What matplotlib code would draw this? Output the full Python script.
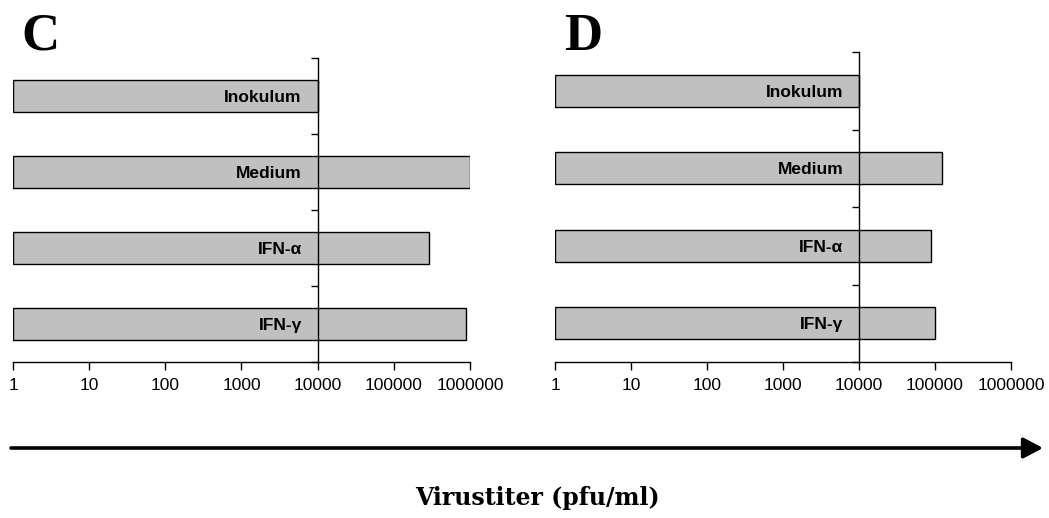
import numpy as np
import matplotlib
matplotlib.use("Agg")
import matplotlib.pyplot as plt
from matplotlib.ticker import FixedLocator, FixedFormatter, NullFormatter

# Data
categories = ["Inokulum", "Medium", "IFN-α", "IFN-γ"]
titer_C = [1e4, 1e6, 2.9e5, 8.8e5]
titer_D = [1e4, 1.25e5, 8.85e4, 1.0e5]
x_ticks = [1, 10, 100, 1000, 10000, 100000, 1000000]
x_tick_labels = ["1", "10", "100", "1000", "10000", "100000", "1000000"]
panel_letters = ["C", "D"]
axis_title = "Virustiter (pfu/ml)"

W, H = 1049, 518
fig = plt.figure(figsize=(W / 100, H / 100), dpi=100)

sans = "Liberation Sans"
serif = "Liberation Serif"


def draw_panel(rect, values, letter, letter_xy):
    ax = fig.add_axes(rect)
    n = len(categories)
    ypos = np.arange(n)[::-1] + 0.5  # first category on top
    ax.barh(ypos, np.array(values) - 1, left=1, height=0.41,
            color="#c0c0c0", edgecolor="black", linewidth=1.0, zorder=1)
    ax.set_xscale("log")
    ax.set_xlim(1, 1e6)
    ax.set_ylim(0, n)

    # value axis
    ax.xaxis.set_major_locator(FixedLocator(x_ticks))
    ax.xaxis.set_major_formatter(FixedFormatter(x_tick_labels))
    ax.xaxis.set_minor_locator(FixedLocator([]))
    ax.tick_params(axis="x", which="major", direction="out", length=6,
                   width=1, pad=5.5, labelsize=12.5, colors="black")
    for t in ax.get_xticklabels():
        t.set_fontfamily(sans)

    # category axis crossing at 10000
    ax.spines["left"].set_position(("data", 1e4))
    ax.spines["right"].set_visible(False)
    ax.spines["top"].set_visible(False)
    for s in ("left", "bottom"):
        ax.spines[s].set_linewidth(1.0)
    ax.yaxis.set_major_locator(FixedLocator(np.arange(n + 1)))
    ax.yaxis.set_major_formatter(NullFormatter())
    ax.yaxis.set_minor_locator(FixedLocator(ypos))
    ax.yaxis.set_minor_formatter(FixedFormatter(categories))
    ax.tick_params(axis="y", which="major", direction="out", length=5, width=1)
    ax.tick_params(axis="y", which="minor", length=0, pad=11.5, labelsize=12.5)
    for t in ax.get_yticklabels(minor=True):
        t.set_fontfamily(sans)
        t.set_fontweight("bold")

    fig.text(letter_xy[0], letter_xy[1], letter, fontfamily=serif,
             fontweight="bold", fontsize=38, ha="left", va="baseline")
    return ax


draw_panel([13 / W, 1 - 362 / H, 457 / W, 304 / H], titer_C,
           panel_letters[0], (21 / W, 1 - 49 / H))
draw_panel([555.3 / W, 1 - 362 / H, 455.7 / W, 310 / H], titer_D,
           panel_letters[1], (564 / W, 1 - 50 / H))

# Direction arrow under both panels
fig.add_artist(matplotlib.patches.FancyArrowPatch(
    (11 / W, 1 - 448 / H), (1043 / W, 1 - 448 / H),
    transform=fig.transFigure, arrowstyle="-|>,head_length=0.85,head_width=0.45",
    mutation_scale=14, linewidth=2.6, color="black", shrinkA=0, shrinkB=0))

fig.text(537 / W, 1 - 498 / H, axis_title, fontfamily="DejaVu Serif",
         fontweight="bold", fontsize=17, ha="center", va="center")

fig.savefig("out.png", dpi=100)
